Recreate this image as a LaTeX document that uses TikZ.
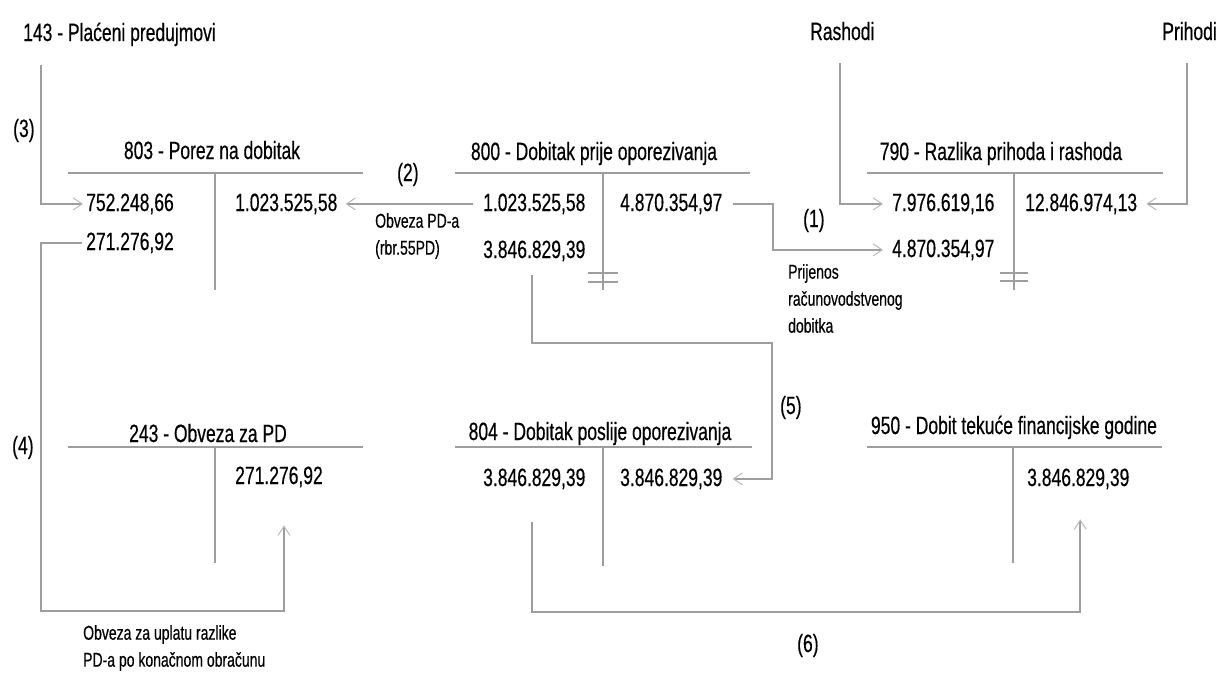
\documentclass[tikz,border=0pt]{standalone}
\usepackage{fontspec}
\setmainfont{Liberation Sans}[FakeStretch=0.70,FakeBold=0.4]
\usetikzlibrary{arrows.meta}
\definecolor{linegray}{RGB}{158,158,158}
\definecolor{tipgray}{RGB}{185,185,185}
\begin{document}
\begin{tikzpicture}[x=1pt,y=-1pt,
  ln/.style={draw=linegray, line width=1.9pt},
  arr/.style={ln, -{Straight Barb[length=9pt,width=12pt,line width=1pt,color=tipgray]}},
  hashln/.style={draw=linegray, line width=1.2pt},
  ttl/.style={inner sep=0pt, anchor=base, font=\fontsize{25}{29}\selectfont},
  amt/.style={inner sep=0pt, anchor=base west, font=\fontsize{25}{29}\selectfont},
  lbl/.style={inner sep=0pt, anchor=base west, font=\fontsize{25}{29}\selectfont},
  note/.style={inner sep=0pt, anchor=north west, align=left, font=\fontsize{20}{27}\selectfont}]
\useasboundingbox[fill=white] (0,0) rectangle (1219,675);

% top labels
\node[lbl] (t143) at (23,41) {143 - Plaćeni predujmovi};
\node[lbl] (rash) at (810,40) {Rashodi};
\node[inner sep=0pt, anchor=base east, font=\fontsize{25}{29}\selectfont] (prih) at (1217,40) {Prihodi};

% titles
\node[ttl] (t803) at (212,159) {803 - Porez na dobitak};
\node[ttl] (t800) at (594,160) {800 - Dobitak prije oporezivanja};
\node[ttl] (t790) at (1001,160) {790 - Razlika prihoda i rashoda};
\node[ttl] (t243) at (208,442) {243 - Obveza za PD};
\node[ttl] (t804) at (600,440) {804 - Dobitak poslije oporezivanja};
\node[ttl] (t950) at (1014,434) {950 - Dobit tekuće financijske godine};

% T-account lines
\draw[ln] (68,173) -- (363,173); \draw[ln] (215,173) -- (215,290);
\draw[ln] (455,173) -- (750,173); \draw[ln] (603,173) -- (603,290);
\draw[ln] (867,173) -- (1163,173); \draw[ln] (1014,173) -- (1014,290);
\draw[ln] (68,447) -- (363,447); \draw[ln] (215,447) -- (215,563);
\draw[ln] (455,447) -- (752,447); \draw[ln] (603,447) -- (603,566);
\draw[ln] (867,447) -- (1162,447); \draw[ln] (1013,447) -- (1013,563);
% closing marks
\draw[hashln] (588,273) -- (618,273); \draw[hashln] (588,282) -- (618,282);
\draw[hashln] (1000,273) -- (1028,273); \draw[hashln] (1000,281) -- (1028,281);

% amounts
\node[amt] (a803L1) at (86,211) {752.248,66};
\node[amt] (a803R1) at (235,211) {1.023.525,58};
\node[amt] (a803L2) at (86,250) {271.276,92};
\node[amt] (a800L1) at (483,211) {1.023.525,58};
\node[amt] (a800R1) at (620,211) {4.870.354,97};
\node[amt] (a800L2) at (483,258) {3.846.829,39};
\node[amt] (a790L1) at (892,211) {7.976.619,16};
\node[amt] (a790R1) at (1025,211) {12.846.974,13};
\node[amt] (a790L2) at (892,257) {4.870.354,97};
\node[amt] (a243R1) at (235,484) {271.276,92};
\node[amt] (a804L1) at (483,486) {3.846.829,39};
\node[amt] (a804R1) at (620,486) {3.846.829,39};
\node[amt] (a950R1) at (1027,486) {3.846.829,39};

% step labels
\node[lbl] (n1) at (803,227) {(1)};
\node[lbl] (n2) at (397,181) {(2)};
\node[lbl] (n3) at (13,137) {(3)};
\node[lbl] (n4) at (12,454) {(4)};
\node[lbl] (n5) at (780,414) {(5)};
\node[lbl] (n6) at (797,652) {(6)};

% notes
\node[note] (obv) at (375,213) {Obveza PD-a\\(rbr.55PD)};
\node[note] (prij) at (788,264) {Prijenos\\računovodstvenog\\dobitka};
\node[note] (upl) at (83,625) {Obveza za uplatu razlike\\PD-a po konačnom obračunu};

% connector anchors
\coordinate (c143) at (41,65);
\coordinate (cR) at (840,63);
\coordinate (cP) at (1187,63);
\coordinate (b4) at (41,611);
\coordinate (k5) at (772,343);
\coordinate (b6) at (0,612);
\coordinate (s6) at ([xshift=-2pt,yshift=-33pt]a804L1.south);
\coordinate (e6) at ([xshift=2pt,yshift=-30pt]a950R1.south);

% connectors
\draw[arr] ([xshift=10pt]a800R1.east) -- ++(40,0) |- ([xshift=-9pt]a790L2.west);
\draw[arr] ([xshift=-10pt]a800L1.west) -- ([xshift=8pt]a803R1.east);
\draw[arr] (c143) |- ([xshift=-3pt]a803L1.west);
\draw[arr] ([xshift=-4pt]a803L2.west) -| (b4) -| ([xshift=5pt,yshift=-38pt]a243R1.south);
\draw[arr] (cR) |- ([xshift=-9pt]a790L1.west);
\draw[arr] (cP) |- ([xshift=9pt]a790R1.east);
\draw[arr] ([xshift=-2pt,yshift=-14pt]a800L2.south) |- (k5) |- ([xshift=10pt]a804R1.east);
\draw[arr] (s6) -- (s6 |- b6) -- (e6 |- b6) -- (e6);
\end{tikzpicture}
\end{document}
